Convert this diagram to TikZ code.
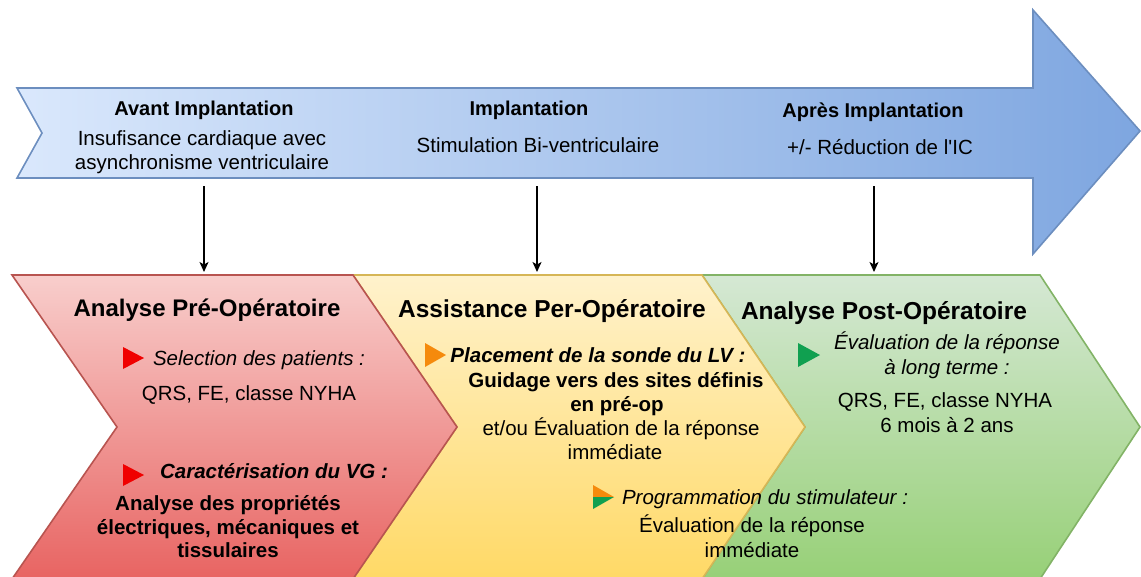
\documentclass[tikz,border=0pt]{standalone}
\usepackage{fontspec}
\setmainfont[Ligatures=TeXOff]{Liberation Sans}
\usetikzlibrary{arrows.meta}
\definecolor{blueL}{HTML}{DAE8FC}
\definecolor{blueD}{HTML}{7EA6E0}
\definecolor{blueS}{HTML}{6C8EBF}
\definecolor{redL}{HTML}{F8CECC}
\definecolor{redD}{HTML}{E86462}
\definecolor{redS}{HTML}{B85450}
\definecolor{yelL}{HTML}{FFF2CC}
\definecolor{yelD}{HTML}{FFD966}
\definecolor{yelS}{HTML}{D6B656}
\definecolor{grnL}{HTML}{D5E8D4}
\definecolor{grnD}{HTML}{97D077}
\definecolor{grnS}{HTML}{82B366}
\definecolor{mkRed}{HTML}{F00000}
\definecolor{mkOrange}{HTML}{F58A0C}
\definecolor{mkGreen}{HTML}{10A050}
\tikzset{
  toptxt/.style={anchor=base,inner sep=0pt,font=\fontsize{20.5}{23}\selectfont},
  topbold/.style={toptxt,font=\fontsize{20}{23}\selectfont\bfseries},
  ttl/.style={anchor=base,inner sep=0pt,font=\fontsize{24.5}{28}\selectfont\bfseries},
  body/.style={anchor=base,inner sep=0pt,font=\fontsize{20.5}{24}\selectfont},
  bodyb/.style={body,font=\fontsize{20.5}{24}\selectfont\bfseries},
  bodyi/.style={body,font=\fontsize{20.5}{24}\selectfont\itshape},
  bodybi/.style={body,font=\fontsize{20.5}{24}\selectfont\bfseries\itshape},
  conn/.style={line width=1.3pt,black,-{Stealth[length=10pt,width=9pt,inset=2.5pt]}},
  shapeline/.style={line width=1.6pt,line join=miter}
}
\begin{document}
\begin{tikzpicture}[x=1pt,y=-1pt]
\useasboundingbox (0,0) rectangle (1141,576);
\clip (0,0) rectangle (1141,576);
% big timeline arrow
\path[shapeline,draw=blueS,left color=blueL,right color=blueD]
  (17,88) -- (1033,88) -- (1033,10) -- (1140,131) -- (1033,254) -- (1033,178) -- (17,178) -- (42,133) -- cycle;
% chevrons
\path[shapeline,draw=grnS,top color=grnL,bottom color=grnD]
  (702,275) -- (1040,275) -- (1140,427) -- (1040,579) -- (702,579) -- (805,427) -- cycle;
\path[shapeline,draw=yelS,top color=yelL,bottom color=yelD]
  (353,275) -- (702,275) -- (805,427) -- (702,579) -- (353,579) -- (457,427) -- cycle;
\path[shapeline,draw=redS,top color=redL,bottom color=redD]
  (12,275) -- (353,275) -- (457,427) -- (353,579) -- (12,579) -- (117,427) -- cycle;
% connectors
\coordinate (s1) at (204,186); \coordinate (e1) at (204,272);
\coordinate (s2) at (537,186); \coordinate (e2) at (537,272);
\coordinate (s3) at (874,186); \coordinate (e3) at (874,272);
\draw[conn] (s1) -- (e1);
\draw[conn] (s2) -- (e2);
\draw[conn] (s3) -- (e3);
% top texts
\node[topbold] (avant) at (204,115) {Avant Implantation};
\node[toptxt] (avant1) at (202,145) {Insufisance cardiaque avec};
\node[toptxt] (avant2) at (202,169) {asynchronisme ventriculaire};
\node[topbold] (impl) at (529,115) {Implantation};
\node[toptxt] (impl1) at (538,152) {Stimulation Bi-ventriculaire};
\node[topbold] (apres) at (873,117) {Après Implantation};
\node[toptxt] (apres1) at (880,154) {+/- Réduction de l'IC};
% markers
\fill[mkRed] (123,347) -- (144,358) -- (123,369) -- cycle;
\fill[mkRed] (123,464) -- (144,475) -- (123,486) -- cycle;
\fill[mkOrange] (425,343) -- (446,355) -- (425,367) -- cycle;
\fill[mkOrange] (593,485) -- (614,497) -- (593,497) -- cycle;
\fill[mkGreen] (593,497) -- (614,497) -- (593,509) -- cycle;
\fill[mkGreen] (798,343) -- (820,355) -- (798,367) -- cycle;
% red chevron texts
\node[ttl,font=\fontsize{24}{28}\selectfont\bfseries] (pre) at (207,316) {Analyse Pré-Opératoire};
\node[bodyi] (sel) at (259,365) {Selection des patients :};
\node[body] (qrs1) at (249,400) {QRS, FE, classe NYHA};
\node[bodybi] (car) at (274,478) {Caractérisation du VG :};
\node[bodyb] (car1) at (228,510) {Analyse des propriétés};
\node[bodyb] (car2) at (228,534) {électriques, mécaniques et};
\node[bodyb] (car3) at (228,557) {tissulaires};
% yellow chevron texts
\node[ttl] (per) at (552,317) {Assistance Per-Opératoire};
\node[bodybi] (plac) at (598,362) {Placement de la sonde du LV :};
\node[bodyb] (plac1) at (616,387) {Guidage vers des sites définis};
\node[bodyb] (plac2) at (617,411) {en pré-op};
\node[body] (plac3) at (621,435) {et/ou Évaluation de la réponse};
\node[body] (plac4) at (615,459) {immédiate};
\node[bodyi] (prog) at (765,504) {Programmation du stimulateur :};
\node[body] (prog1) at (752,532) {Évaluation de la réponse};
\node[body] (prog2) at (752,557) {immédiate};
% green chevron texts
\node[ttl] (post) at (884,319) {Analyse Post-Opératoire};
\node[bodyi] (ev1) at (947,349) {Évaluation de la réponse};
\node[bodyi] (ev2) at (947,374) {à long terme :};
\node[body] (qrs2) at (945,407) {QRS, FE, classe NYHA};
\node[body] (mois) at (947,432) {6 mois à 2 ans};
\end{tikzpicture}
\end{document}
